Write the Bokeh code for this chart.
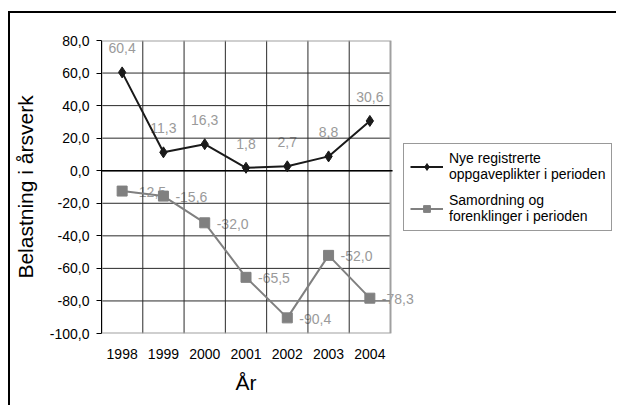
from bokeh.plotting import figure
from bokeh.models import (Range1d, FixedTicker, LabelSet, ColumnDataSource,
                          Legend, LegendItem, Title)
from bokeh.core.properties import value
from bokeh.embed import file_html
from bokeh.resources import INLINE

# ---- data ----
years = ["1998", "1999", "2000", "2001", "2002", "2003", "2004"]
nye = [60.4, 11.3, 16.3, 1.8, 2.7, 8.8, 30.6]
samordning = [-12.5, -15.6, -32.0, -65.5, -90.4, -52.0, -78.3]
y_ticks = [-100, -80, -60, -40, -20, 0, 20, 40, 60, 80]
y_tick_labels = ["-100,0", "-80,0", "-60,0", "-40,0", "-20,0", "0,0",
                 "20,0", "40,0", "60,0", "80,0"]
series_names = ["Nye registrerte\noppgaveplikter i perioden",
                "Samordning og\nforenklinger i perioden"]
x_title = "År"
y_title = "Belastning i årsverk"

FONT = "Liberation Sans"
xs = list(range(len(years)))
x_lo, x_hi = -0.5, len(years) - 0.5
y_lo, y_hi = y_ticks[0], y_ticks[-1]

# layout (pixels)
PLOT_W = 289          # width of the gridded plot area
FRAME_W = 515         # frame also holds the legend area on the right
FRAME_H = 293


def fmt(v):
    return f"{v:.1f}".replace(".", ",")


x_end = x_lo + (x_hi - x_lo) * FRAME_W / PLOT_W

p = figure(frame_width=FRAME_W, frame_height=FRAME_H, output_backend="svg",
           toolbar_location=None,
           x_range=Range1d(x_lo, x_end), y_range=Range1d(y_lo, y_hi),
           min_border_left=91, min_border_right=0, min_border_top=27,
           min_border_bottom=72)
p.styles = {"margin-left": "8px", "margin-top": "11px",
            "border-left": "2px solid black", "border-top": "2px solid black"}
p.background_fill_color = "white"
p.border_fill_color = "white"
p.outline_line_color = None
p.xgrid.visible = False
p.ygrid.visible = False

grid_c = "#2a2a2a"
# horizontal grid lines (inner ticks)
inner_y = y_ticks[1:-1]
p.segment(x0=[x_lo] * len(inner_y), x1=[x_hi] * len(inner_y),
          y0=inner_y, y1=inner_y, line_color=grid_c, line_width=1)
# vertical grid lines at category boundaries
bounds = [i + 0.5 for i in xs[:-1]]
p.segment(x0=bounds, x1=bounds, y0=[y_lo] * len(bounds), y1=[y_hi] * len(bounds),
          line_color=grid_c, line_width=1)
# plot-area border
p.quad(left=[x_lo], right=[x_hi], bottom=[y_lo], top=[y_hi], fill_color=None,
       line_color="#a0a0a0", line_width=2)
# category axis at zero
p.segment(x0=[x_lo], x1=[x_hi + 0.05], y0=[0], y1=[0], line_color="black",
          line_width=1.5)

# x axis
xa = p.xaxis[0]
xa.ticker = FixedTicker(ticks=xs)
xa.major_label_overrides = {i: y for i, y in zip(xs, years)}
xa.axis_line_color = None
xa.major_tick_line_color = None
xa.minor_tick_line_color = None
xa.major_tick_out = 0
xa.major_tick_in = 0
xa.major_label_standoff = 15
xa.major_label_text_font = FONT
xa.major_label_text_font_size = "14px"
xa.major_label_text_color = "black"

# x-axis title, centred under the gridded plot area
p.add_layout(Title(text=x_title, align="left", offset=PLOT_W / 2 - 10.5,
                   text_font=FONT, text_font_size="21px",
                   text_font_style="normal", text_color="black",
                   standoff=14), "below")

# y axis
ya = p.yaxis[0]
ya.ticker = FixedTicker(ticks=y_ticks)
ya.major_label_overrides = {t: l for t, l in zip(y_ticks, y_tick_labels)}
ya.axis_line_color = "black"
ya.axis_line_width = 1
ya.major_tick_line_color = "black"
ya.major_tick_out = 5
ya.major_tick_in = 0
ya.minor_tick_line_color = None
ya.major_label_standoff = 7
ya.major_label_text_font = FONT
ya.major_label_text_font_size = "14px"
ya.major_label_text_color = "black"
ya.axis_label = y_title
ya.axis_label_text_font = FONT
ya.axis_label_text_font_size = "21px"
ya.axis_label_text_font_style = "normal"
ya.axis_label_standoff = 10
ya.axis_label_text_color = "black"

# series
src1 = ColumnDataSource(dict(x=xs, y=nye, t=[fmt(v) for v in nye]))
src2 = ColumnDataSource(dict(x=xs, y=samordning, t=[fmt(v) for v in samordning]))

p.add_layout(LabelSet(x="x", y="y", text="t", source=src1, y_offset=24,
                      text_align="center", text_baseline="middle",
                      text_color="#9a9a9a", text_font=value(FONT),
                      text_font_size="14px", level="underlay"))
p.add_layout(LabelSet(x="x", y="y", text="t", source=src2, x_offset=12,
                      y_offset=-1, text_align="left", text_baseline="middle",
                      text_color="#9a9a9a", text_font=value(FONT),
                      text_font_size="14px", level="underlay"))

c1 = "#1a1a1a"
c2 = "#808080"
l1 = p.line("x", "y", source=src1, line_color=c1, line_width=2)
m1 = p.scatter("x", "y", source=src1, marker="diamond", size=11,
               fill_color=c1, line_color=c1)
l2 = p.line("x", "y", source=src2, line_color=c2, line_width=2)
m2 = p.scatter("x", "y", source=src2, marker="square", size=10,
               fill_color=c2, line_color=c2)

legend = Legend(items=[LegendItem(label=series_names[0], renderers=[l1, m1]),
                       LegendItem(label=series_names[1], renderers=[l2, m2])],
                location=(302, 102), orientation="vertical")
legend.margin = 0
legend.padding = 6
legend.spacing = 10
legend.glyph_width = 33
legend.glyph_height = 17
legend.label_standoff = 6
legend.label_text_font = FONT
legend.label_text_font_size = "14px"
legend.label_text_color = "black"
legend.border_line_color = "#333333"
legend.border_line_width = 1
legend.background_fill_color = "white"
p.add_layout(legend)

open("out.html", "w").write(file_html(p, INLINE))
